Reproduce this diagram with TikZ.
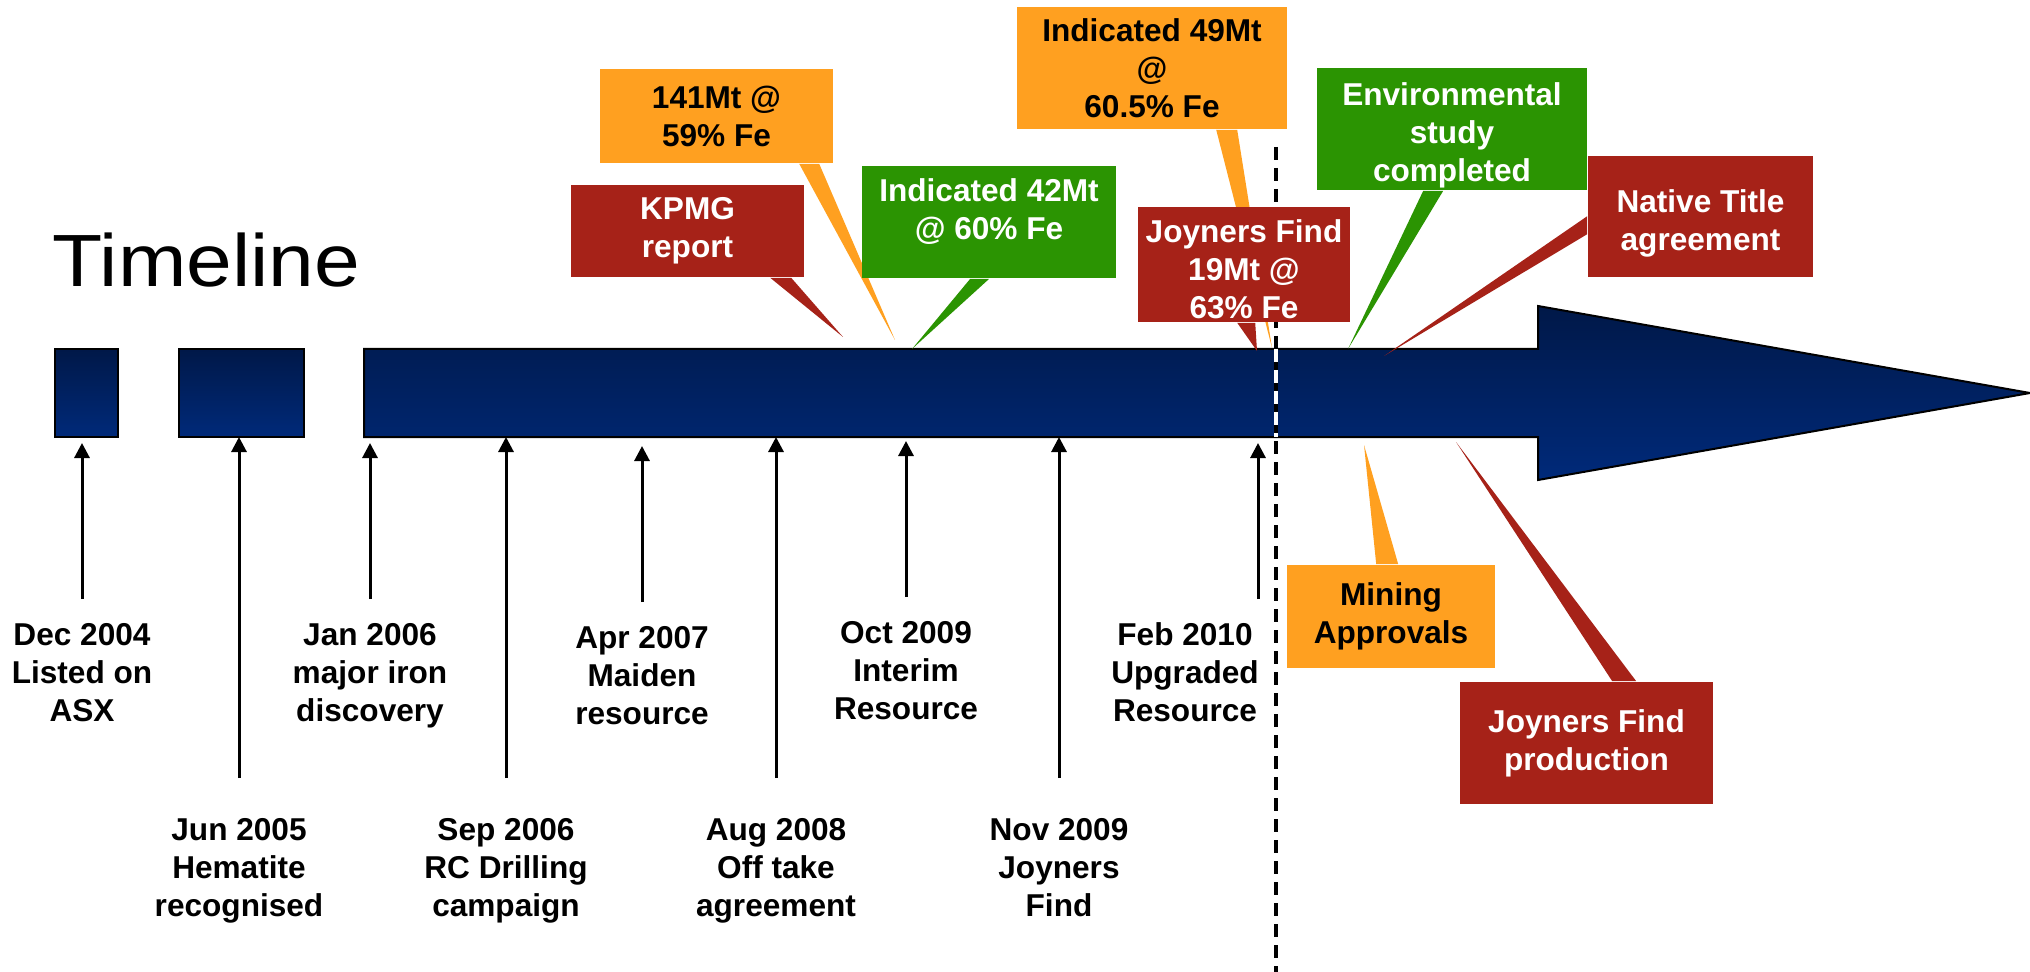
\documentclass[tikz,border=0pt]{standalone}
\usepackage{fontspec}
\setmainfont{Liberation Sans}
\usetikzlibrary{arrows.meta,calc}

\definecolor{calorange}{RGB}{255,160,32}
\definecolor{calred}{RGB}{166,34,24}
\definecolor{calgreen}{RGB}{43,148,2}
\definecolor{navytop}{RGB}{0,24,72}
\definecolor{navybottom}{RGB}{0,42,122}

\begin{document}
\begin{tikzpicture}
  [x=0.25pt, y=-0.25pt, >={Triangle[length=3.75pt,width=3.75pt]},
   evarrow/.style={->, line width=0.75pt},
   evtop/.style={anchor=north, inner sep=0pt, outer ysep=6pt, align=center,
     font=\bfseries\fontsize{7.9}{9.5}\selectfont},
   evlow/.style={evtop, outer ysep=10pt},
   callout/.style={inner sep=0pt, align=center, font=\bfseries\fontsize{7.9}{9.5}\selectfont},
   orangebox/.style={callout, fill=calorange, text=black},
   redbox/.style={callout, fill=calred, text=white},
   greenbox/.style={callout, fill=calgreen, text=white},
   timebar/.style={top color=navytop, bottom color=navybottom, draw=black, line width=0.5pt},
   divider/.style={dash pattern=on 3.25pt off 2pt, line width=1pt}]

  \useasboundingbox (0,0) rectangle (2030,972);

  \node[anchor=base west, inner sep=0pt, font=\fontsize{18.5}{22}\selectfont] (title) at (52,287)
    {\scalebox{1.11}[1]{Timeline}};

  % bars
  \shadedraw[timebar] (55,349) rectangle (118,437);
  \shadedraw[timebar] (179,349) rectangle (304,437);
  \shadedraw[timebar] (364,349) -- (1538,349) -- (1538,306) -- (2030,393)
    -- (1538,480) -- (1538,437) -- (364,437) -- cycle;

  % events
  \coordinate (dec04tip) at (82,443);
  \coordinate (jun05tip) at (239,437);
  \coordinate (jan06tip) at (370,443);
  \coordinate (sep06tip) at (506,437);
  \coordinate (apr07tip) at (642,446);
  \coordinate (aug08tip) at (776,437);
  \coordinate (oct09tip) at (906,441);
  \coordinate (nov09tip) at (1059,437);
  \coordinate (feb10tip) at (1258,443);

  \node[evtop] (dec04) at (82,599) {Dec 2004\\Listed on\\ASX};
  \node[evtop] (jan06) at (370,599) {Jan 2006\\major iron\\discovery};
  \node[evtop] (apr07) at (642,602) {Apr 2007\\Maiden\\resource};
  \node[evtop] (oct09) at (906,597) {Oct 2009\\Interim\\Resource};
  \node[evtop] (feb10) at (1185,599) {Feb 2010\\Upgraded\\Resource};
  \node[evlow] (jun05) at (239,778) {Jun 2005\\Hematite\\recognised};
  \node[evlow] (sep06) at (506,778) {Sep 2006\\RC Drilling\\campaign};
  \node[evlow] (aug08) at (776,778) {Aug 2008\\Off take\\agreement};
  \node[evlow] (nov09) at (1059,778) {Nov 2009\\Joyners\\Find};

  \draw[evarrow] (dec04.north) -- (dec04tip);
  \draw[evarrow] (jun05.north) -- (jun05tip);
  \draw[evarrow] (jan06.north) -- (jan06tip);
  \draw[evarrow] (sep06.north) -- (sep06tip);
  \draw[evarrow] (apr07.north) -- (apr07tip);
  \draw[evarrow] (aug08.north) -- (aug08tip);
  \draw[evarrow] (oct09.north) -- (oct09tip);
  \draw[evarrow] (nov09.north) -- (nov09tip);
  \draw[evarrow] (feb10.north -| feb10tip) -- (feb10tip);

  % callouts
  \node[orangebox, minimum width=67.5pt, minimum height=30.5pt] (ind49) at (1152,68)
    {Indicated 49Mt\\@\\60.5\% Fe};
  \coordinate (ind49tip) at (1272,348);
  \fill[calorange] ($(ind49.south west)+(200,0)$) -- (ind49tip) -- ($(ind49.south west)+(221,0)$) -- cycle;

  \node[orangebox, minimum width=58.25pt, minimum height=23.5pt] (res141) at (716.5,116)
    {141Mt @\\59\% Fe};
  \coordinate (res141tip) at (895,340);
  \fill[calorange] ($(res141.south west)+(200,0)$) -- (res141tip) -- ($(res141.south west)+(220,0)$) -- cycle;

  \node[redbox, minimum width=58.25pt, minimum height=23pt] (kpmg) at (687.5,231)
    {KPMG\\report};
  \coordinate (kpmgtip) at (843,337);
  \fill[calred] ($(kpmg.south west)+(200,0)$) -- (kpmgtip) -- ($(kpmg.south west)+(221,0)$) -- cycle;

  \node[greenbox, minimum width=63.5pt, minimum height=28pt] (ind42) at (989,222)
    {Indicated 42Mt\\@ 60\% Fe\\[-6pt]\strut};
  \coordinate (ind42tip) at (912,349);
  \fill[calgreen] ($(ind42.south west)+(109,0)$) -- (ind42tip) -- ($(ind42.south west)+(128,0)$) -- cycle;

  \coordinate (divtop) at (1276,147);
  \coordinate (divbottom) at (1276,972);
  \coordinate (divbartop) at (1276,349);
  \coordinate (divbarbottom) at (1276,437);
  \draw[divider] (divtop) -- (divbottom);
  \draw[divider, white] (divbartop) -- (divbarbottom);

  \node[redbox, minimum width=53pt, minimum height=28.75pt] (joyners) at (1244,264.5)
    {\rule{0pt}{8.3pt}Joyners Find\\19Mt @\\63\% Fe};
  \coordinate (joynerstip) at (1257,351);
  \fill[calred] ($(joyners.south west)+(100,0)$) -- (joynerstip) -- ($(joyners.south west)+(118,0)$) -- cycle;

  \node[greenbox, minimum width=67.5pt, minimum height=30.5pt] (envstudy) at (1452,129)
    {\rule{0pt}{9pt}Environmental\\study\\completed};
  \coordinate (envstudytip) at (1348,349);
  \fill[calgreen] ($(envstudy.south west)+(107,0)$) -- (envstudytip) -- ($(envstudy.south west)+(127,0)$) -- cycle;

  \node[redbox, minimum width=56.25pt, minimum height=30.25pt] (native) at (1700.5,216.5)
    {\rule{0pt}{9pt}Native Title\\agreement};
  \coordinate (nativetip) at (1384,356);
  \fill[calred] ($(native.north west)+(0,61)$) -- (nativetip) -- ($(native.north west)+(0,79)$) -- cycle;

  \node[orangebox, minimum width=52pt, minimum height=25.75pt] (mining) at (1391,616.5)
    {Mining\\Approvals};
  \coordinate (miningtip) at (1364,445);
  \fill[calorange] ($(mining.north west)+(90,0)$) -- (miningtip) -- ($(mining.north west)+(112,0)$) -- cycle;

  \node[redbox, minimum width=63.25pt, minimum height=30.5pt] (production) at (1586.5,743)
    {Joyners Find\\production};
  \coordinate (productiontip) at (1456,442);
  \fill[calred] ($(production.north west)+(153,0)$) -- (productiontip) -- ($(production.north west)+(177,0)$) -- cycle;
\end{tikzpicture}
\end{document}
